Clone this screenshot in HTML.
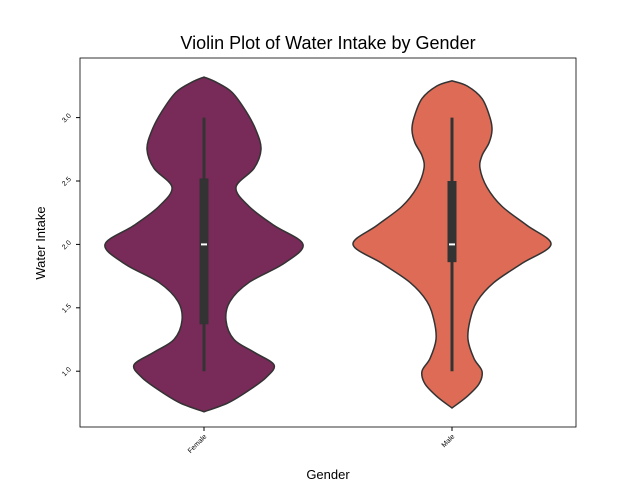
<!DOCTYPE html>
<html><head><meta charset="utf-8"><style>
body{margin:0;background:#fff;font-family:"Liberation Sans",sans-serif}
svg text{font-family:"Liberation Sans",sans-serif}
</style></head><body>
<svg id="c" width="640" height="480">
<rect x="0" y="0" width="640" height="480" fill="#fff"/>
<text x="328" y="49" font-size="18" text-anchor="middle">Violin Plot of Water Intake by Gender</text>
<text x="328" y="479" font-size="13" text-anchor="middle">Gender</text>
<text transform="translate(45,243) rotate(-90)" font-size="13" text-anchor="middle">Water Intake</text>
<g id="plot"></g>
<rect x="80" y="58" width="496" height="369" fill="none" stroke="#000" stroke-width="0.8"/>
</svg>
<script>
const categories = ["Female","Male"];
const colors = ["#782a58","#dd6b55"];
// density profiles: y values and half-widths (in px of a 99px max)
const densityY = [
 [3.32,3.28,3.2,3.05,2.9,2.75,2.6,2.45,2.3,2.15,2.0,1.85,1.7,1.55,1.4,1.25,1.15,1.05,0.95,0.85,0.75,0.68],
 [3.29,3.25,3.15,3.0,2.9,2.8,2.7,2.6,2.45,2.3,2.15,2.0,1.85,1.7,1.55,1.4,1.25,1.1,1.0,0.9,0.8,0.71]
];
const densityW = [
 [0,12,28,42,52,57,50,32,45,70,99,80,45,26,22,30,50,70,62,45,24,0],
 [0,15,30,38,40,37,30,28,35,50,75,99,70,42,25,18,16,22,30,27,15,0]
];
const whiskerLow = [1.0,1.0];
const whiskerHigh = [3.0,3.0];
const q1 = [1.37,1.86];
const q3 = [2.52,2.5];
const medians = [2.0,2.0];
const yTicks = [1.0,1.5,2.0,2.5,3.0];
const yTickLabels = ["1.0","1.5","2.0","2.5","3.0"];

const ns="http://www.w3.org/2000/svg";
const g=document.getElementById('plot');
const X0=80,X1=576,Y0=58,Y1=427, yMin=0.56, yMax=3.47;
const yS=v=>Y1-(v-yMin)/(yMax-yMin)*(Y1-Y0);
const band=(X1-X0)/categories.length;
const xS=i=>X0+band*(i+0.5);
const wS=w=>w;
function mk(t,a){const e=document.createElementNS(ns,t);for(const k in a)e.setAttribute(k,a[k]);g.appendChild(e);return e;}
function smooth(pts){let d=`M${pts[0][0]},${pts[0][1]}`;for(let i=0;i<pts.length-1;i++){const p0=pts[i-1]||pts[i],p1=pts[i],p2=pts[i+1],p3=pts[i+2]||p2;
 d+=` C${p1[0]+(p2[0]-p0[0])/6},${p1[1]+(p2[1]-p0[1])/6} ${p2[0]-(p3[0]-p1[0])/6},${p2[1]-(p3[1]-p1[1])/6} ${p2[0]},${p2[1]}`;}return d;}
categories.forEach((c,i)=>{
 const cx=xS(i);
 const right=densityY[i].map((v,j)=>[cx+wS(densityW[i][j]),yS(v)]);
 const left=densityY[i].map((v,j)=>[cx-wS(densityW[i][j]),yS(v)]).reverse();
 const d=smooth(right)+' L'+smooth(left).slice(1)+' Z';
 const v=mk('path',{d,fill:colors[i],stroke:'#333',"stroke-width":1.5});
 
 
 const w=mk('line',{x1:cx,x2:cx,y1:yS(whiskerLow[i]),y2:yS(whiskerHigh[i]),stroke:'#333',"stroke-width":3});
 
 
 const b=mk('rect',{x:cx-4.5,width:9,y:yS(q3[i]),height:yS(q1[i])-yS(q3[i]),fill:'#333'});
 
 
 const m=mk('line',{x1:cx-3,x2:cx+3,y1:yS(medians[i]),y2:yS(medians[i]),stroke:'#fff',"stroke-width":2});
 
 
 mk('line',{x1:cx,x2:cx,y1:Y1,y2:Y1+4,stroke:'#000'});
 const t=mk('text',{transform:`translate(${cx+3},${Y1+10}) rotate(-45)`,"font-size":7,"text-anchor":"end"});
 t.textContent=c;
 
 
});
yTicks.forEach((v,i)=>{
 const y=yS(v);
 mk('line',{x1:X0-4,x2:X0,y1:y,y2:y,stroke:'#000'});
 const t=mk('text',{transform:`translate(${X0-12},${y+2}) rotate(-45)`,"font-size":7,"text-anchor":"middle"});
 t.textContent=yTickLabels[i];
 
 
});
</script>
</body></html>
